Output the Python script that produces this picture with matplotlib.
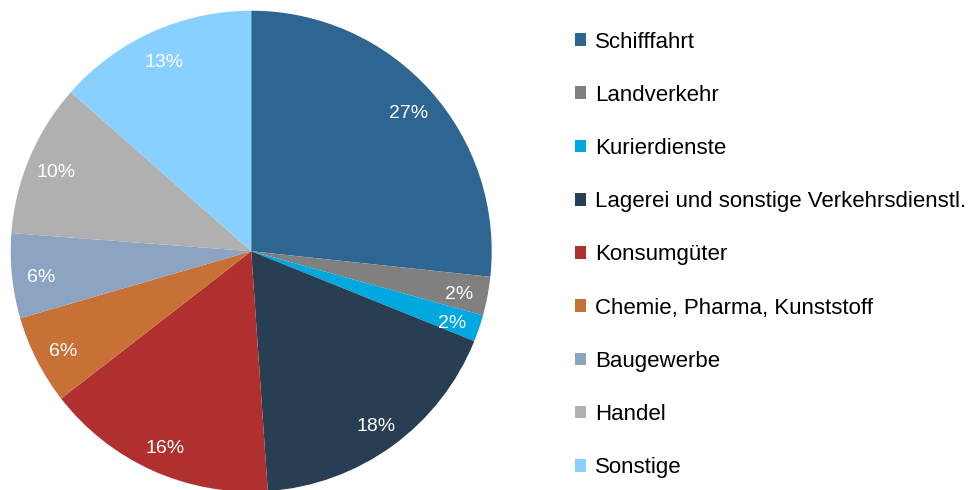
import matplotlib
matplotlib.use("Agg")
import matplotlib.pyplot as plt
from matplotlib.transforms import offset_copy

categories = ["Schifffahrt", "Landverkehr", "Kurierdienste",
              "Lagerei und sonstige Verkehrsdienstl.", "Konsumgüter",
              "Chemie, Pharma, Kunststoff", "Baugewerbe", "Handel", "Sonstige"]
values = [26.7, 2.6, 1.8, 17.8, 15.6, 6.0, 5.7, 10.3, 13.5]
pct_labels = ["27%", "2%", "2%", "18%", "16%", "6%", "6%", "10%", "13%"]
colors = ["#2F6691", "#808080", "#00A8E0", "#283E53", "#B03030",
          "#C87137", "#8DA3C2", "#B0B0B0", "#87D0FF"]

plt.rcParams['font.family'] = ['Liberation Sans', 'DejaVu Sans']

fig = plt.figure(figsize=(9.77, 4.9), dpi=100)
ax = fig.add_axes([10.7/977, (490 - 251.2 - 240.5)/490, 481/977, 481/490])
wedges, texts = ax.pie(values, colors=colors, startangle=90, counterclock=False,
                       labels=pct_labels, labeldistance=0.88,
                       textprops=dict(color="white", fontsize=14))
ax.set_xlim(-1, 1)
ax.set_ylim(-1, 1)
ax.set_aspect('equal')
shifted = offset_copy(ax.transData, fig=fig, x=0, y=-4, units='dots')
for t in texts:
    t.set_ha("center")
    t.set_va("center")
    t.set_transform(shifted)

leg = fig.legend(wedges, categories, loc="upper left", bbox_to_anchor=(575/977, 1 - 31.5/490),
                 frameon=False, fontsize=16, handlelength=0.5, handleheight=0.5,
                 handletextpad=0.4, labelspacing=1.45, borderpad=0, borderaxespad=0)
fig.savefig("out.png", dpi=100)
